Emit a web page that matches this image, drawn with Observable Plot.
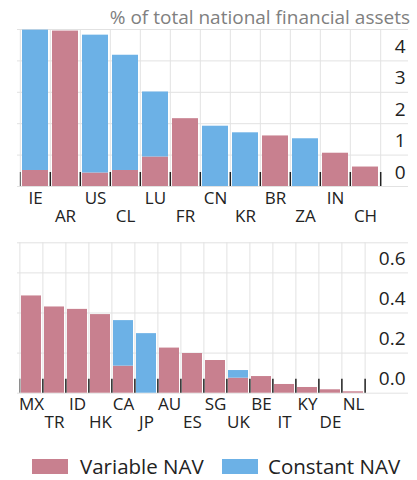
<!DOCTYPE html>
<html>
<head>
<meta charset="utf-8">
<script src="https://cdn.jsdelivr.net/npm/d3@7"></script>
<script src="https://cdn.jsdelivr.net/npm/@observablehq/plot@0.6"></script>
<style>
  html, body { margin: 0; padding: 0; background: #fff; }
  #wrap { position: relative; width: 417px; height: 480px; font-family: "Open Sans", "Noto Sans", sans-serif; overflow: hidden; }
  #wrap svg { position: absolute; left: 0; }
  .title { position: absolute; top: 3px; right: 7px; font-size: 19px; color: #808080; line-height: 28px; white-space: nowrap; }
  .legend { position: absolute; top: 451px; left: 0; width: 417px; height: 30px; font-size: 20.5px; color: #222; }
  .legend .sw { position: absolute; top: 8px; width: 36px; height: 15px; }
  .legend .lb { position: absolute; top: 0; line-height: 30px; white-space: nowrap; }
</style>
</head>
<body>
<div id="wrap">
  <div class="title">% of total national financial assets</div>
</div>
<script>
const types = ["Variable NAV", "Constant NAV"];
const colors = ["#c8808f", "#6cb1e6"];

const topCats = ["IE","AR","US","CL","LU","FR","CN","KR","BR","ZA","IN","CH"];
const topVariable = [0.51, 4.95, 0.43, 0.51, 0.94, 2.16, 0, 0, 1.61, 0, 1.06, 0.62];
const topConstant = [4.47, 0, 4.39, 3.67, 2.07, 0, 1.92, 1.71, 0, 1.52, 0, 0];
const topTicks = [0, 1, 2, 3, 4];
const topGrid = [0, 1, 2, 3, 4, 5];

const botCats = ["MX","TR","ID","HK","CA","JP","AU","ES","SG","UK","BE","IT","KY","DE","NL"];
const botVariable = [0.485, 0.43, 0.418, 0.392, 0.135, 0, 0.225, 0.198, 0.163, 0.075, 0.083, 0.0435, 0.0285, 0.017, 0.007];
const botConstant = [0, 0, 0, 0, 0.227, 0.297, 0, 0, 0, 0.038, 0, 0, 0, 0, 0];
const botTicks = [0, 0.2, 0.4, 0.6];
const botGrid = [0, 0.2, 0.4, 0.6, 0.75];

const FONT = '"Open Sans", "Noto Sans", sans-serif';

function panel({cats, variable, constant, yMax, grid, ticks, fmt, xEnd, height, marginTop, marginBottom}) {
  const data = [];
  cats.forEach((c, i) => data.push({cat: c, type: types[0], value: variable[i]}));
  cats.forEach((c, i) => data.push({cat: c, type: types[1], value: constant[i]}));
  const step = (xEnd - 17) / cats.length;
  const frameH = height - marginTop - marginBottom;
  const last = [cats[cats.length - 1]];
  return Plot.plot({
    width: 417, height, marginLeft: 17, marginRight: 9, marginTop, marginBottom,
    style: {fontFamily: FONT, background: "transparent", overflow: "visible"},
    x: {type: "band", domain: cats, range: [17, xEnd], paddingInner: 0.15, paddingOuter: 0.075, axis: null},
    y: {domain: [0, yMax], axis: null},
    color: {domain: types, range: colors},
    marks: [
      Plot.ruleY(grid, {y: d => d, stroke: "#e2e2e2", strokeWidth: 1}),
      Plot.ruleX(cats, {x: d => d, dx: -step / 2, stroke: "#e2e2e2", strokeWidth: 1}),
      Plot.ruleX(last, {x: d => d, dx: step / 2, stroke: "#e2e2e2", strokeWidth: 1}),
      Plot.barY(data, {x: "cat", y: "value", fill: "type", order: types}),
      Plot.ruleX(cats.slice(1), {x: d => d, dx: -step / 2, insetTop: frameH - 14, stroke: "#222", strokeWidth: 1.5}),
      Plot.ruleX(last, {x: d => d, dx: step / 2, insetTop: frameH - 14, stroke: "#222", strokeWidth: 1.5}),
      Plot.ruleX([cats[0]], {x: d => d, dx: -step / 2, insetTop: frameH - 14, stroke: "#555", strokeWidth: 1}),
      Plot.text(ticks, {y: d => d, text: fmt, frameAnchor: "right", textAnchor: "end", dx: -3, dy: -14, fontSize: 19, fill: "#222"}),
      Plot.text(cats.filter((d, i) => i % 2 === 0), {x: d => d, text: d => d, frameAnchor: "bottom", dy: 17, fontSize: 17, fill: "#222"}),
      Plot.text(cats.filter((d, i) => i % 2 === 1), {x: d => d, text: d => d, frameAnchor: "bottom", dy: 35, fontSize: 17, fill: "#222"})
    ]
  });
}

const wrap = document.getElementById("wrap");

const topSvg = panel({
  cats: topCats, variable: topVariable, constant: topConstant,
  yMax: 5, grid: topGrid, ticks: topTicks, fmt: d => d3.format("d")(d),
  xEnd: 381.5, height: 232, marginTop: 29, marginBottom: 46
});
topSvg.style.top = "0px";
wrap.appendChild(topSvg);

const botSvg = panel({
  cats: botCats, variable: botVariable, constant: botConstant,
  yMax: 0.75, grid: botGrid, ticks: botTicks, fmt: d => d3.format(".1f")(d),
  xEnd: 365.7, height: 210, marginTop: 12.3, marginBottom: 47.3
});
botSvg.style.top = "230px";
wrap.appendChild(botSvg);

const legend = document.createElement("div");
legend.className = "legend";
const items = [
  {label: types[0], color: colors[0], sx: 32, tx: 80},
  {label: types[1], color: colors[1], sx: 222, tx: 268}
];
for (const it of items) {
  const sw = document.createElement("span");
  sw.className = "sw";
  sw.style.left = it.sx + "px";
  sw.style.background = it.color;
  const lb = document.createElement("span");
  lb.className = "lb";
  lb.style.left = it.tx + "px";
  lb.textContent = it.label;
  legend.appendChild(sw);
  legend.appendChild(lb);
}
wrap.appendChild(legend);
</script>
</body>
</html>
